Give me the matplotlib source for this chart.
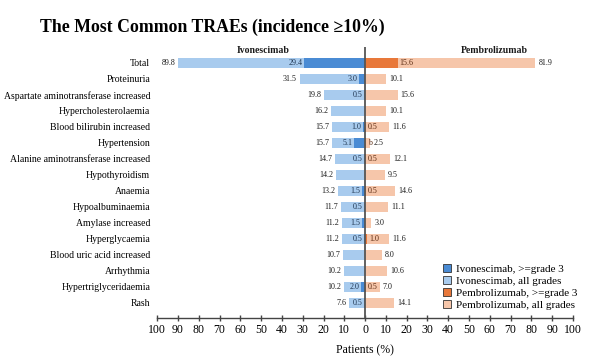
import matplotlib.pyplot as plt
import numpy as np
from matplotlib.patches import Patch

# ─── Data ─────────────────────────────────────────────────────────────────────
EVENTS = [
    "Total", "Proteinuria", "Aspartate aminotransferase increased",
    "Hypercholesterolaemia", "Blood bilirubin increased", "Hypertension",
    "Alanine aminotransferase increased", "Hypothyroidism", "Anaemia",
    "Hypoalbuminaemia", "Amylase increased", "Hyperglycaemia",
    "Blood uric acid increased", "Arrhythmia", "Hypertriglyceridaemia", "Rash",
]
IVO_ALL = [89.8, 31.5, 19.8, 16.2, 15.7, 15.7, 14.7, 14.2, 13.2, 11.7, 11.2, 11.2, 10.7, 10.2, 10.2, 7.6]
IVO_G3  = [29.4, 3.0, 0.5, 0, 1.0, 5.1, 0.5, 0, 1.5, 0.5, 1.5, 0.5, 0, 0, 2.0, 0.5]
PEM_ALL = [81.9, 10.1, 15.6, 10.1, 11.6, 2.5, 12.1, 9.5, 14.6, 11.1, 3.0, 11.6, 8.0, 10.6, 7.0, 14.1]
PEM_G3  = [15.6, 0, 0, 0, 0.5, 0.5, 0.5, 0, 0.5, 0, 0, 1.0, 0, 0, 0.5, 0]
PEM_G3_TEXT = {5: "b"}   # label squeezed against the axis in the source

# ─── Style ────────────────────────────────────────────────────────────────────
IVO_DARK  = "#4a8bd4"
IVO_LIGHT = "#a8cbee"
PEM_DARK  = "#e8783a"
PEM_LIGHT = "#f6c6aa"
TXT       = "#1a1a1a"

plt.rcParams["font.family"] = ["Liberation Serif", "DejaVu Serif"]

fig = plt.figure(figsize=(5.91, 3.6), dpi=100)
ax = fig.add_axes([0.266, 0.1167, 0.7035, 0.7528])

n = len(EVENTS)
y = np.arange(n)[::-1]
h = 0.62

ax.barh(y, -np.array(IVO_ALL), height=h, color=IVO_LIGHT, label="Ivonescimab, all grades", zorder=2)
ax.barh(y, -np.array(IVO_G3), height=h, color=IVO_DARK, label="Ivonescimab, >=grade 3", zorder=3)
ax.barh(y, PEM_ALL, height=h, color=PEM_LIGHT, label="Pembrolizumab, all grades", zorder=2)
ax.barh(y, PEM_G3, height=h, color=PEM_DARK, label="Pembrolizumab, >=grade 3", zorder=3)

fs_val = 5.8
for i, yy in enumerate(y):
    ax.text(-IVO_ALL[i] - 1.3, yy, f"{IVO_ALL[i]:.1f}", ha="right", va="center",
            fontsize=fs_val, color=TXT)
    if IVO_G3[i] > 0:
        ax.text(-IVO_G3[i] - 0.8, yy, f"{IVO_G3[i]:.1f}", ha="right", va="center",
                fontsize=fs_val, color="#1f3550", zorder=4)
    ax.text(PEM_ALL[i] + 1.5, yy, f"{PEM_ALL[i]:.1f}", ha="left", va="center",
            fontsize=fs_val, color=TXT)
    if PEM_G3[i] > 0:
        txt = PEM_G3_TEXT.get(i, f"{PEM_G3[i]:.1f}")
        ax.text(PEM_G3[i] + 0.8, yy, txt, ha="left", va="center",
                fontsize=fs_val, color="#5a2a10", zorder=4)

ax.axvline(0, color="#555555", lw=1.3, zorder=5)

ax.set_xlim(-100, 100)
ax.set_ylim(-0.9375, n)
ax.set_yticks(y)
ax.set_yticklabels(EVENTS, fontsize=7)
ax.tick_params(axis="y", length=0, pad=5)

ticks = np.arange(-100, 101, 10)
ax.set_xticks(ticks)
ax.set_xticklabels([str(abs(t)) for t in ticks], fontsize=8.5)
ax.tick_params(axis="x", direction="inout", length=5, width=1, color="#444444", pad=2)
ax.set_xlabel("Patients (%)", fontsize=8.5, labelpad=6)

for s in ("top", "left", "right"):
    ax.spines[s].set_visible(False)
ax.spines["bottom"].set_color("#444444")
ax.spines["bottom"].set_linewidth(1)

ax.text(-49, n - 0.25, "Ivonescimab", ha="center", va="center",
        fontsize=7, fontweight="bold", color=TXT)
ax.text(62, n - 0.25, "Pembrolizumab", ha="center", va="center",
        fontsize=7, fontweight="bold", color=TXT)

handles, labels = ax.get_legend_handles_labels()
order = [1, 0, 3, 2]
leg_handles = [Patch(facecolor=handles[k].patches[0].get_facecolor(),
                     edgecolor="#333333", linewidth=0.6) for k in order]
ax.legend(leg_handles, [labels[k] for k in order], loc="lower right",
          bbox_to_anchor=(1.03, 0.0), fontsize=8, frameon=False,
          handlelength=0.7, handleheight=0.7, handletextpad=0.5,
          labelspacing=0.2, borderaxespad=0.3)

fig.text(0.068, 0.91, "The Most Common TRAEs (incidence \u226510%)",
         fontsize=12.8, fontweight="bold", color="black", ha="left", va="baseline")

fig.savefig("out.png", dpi=100, facecolor="white")
